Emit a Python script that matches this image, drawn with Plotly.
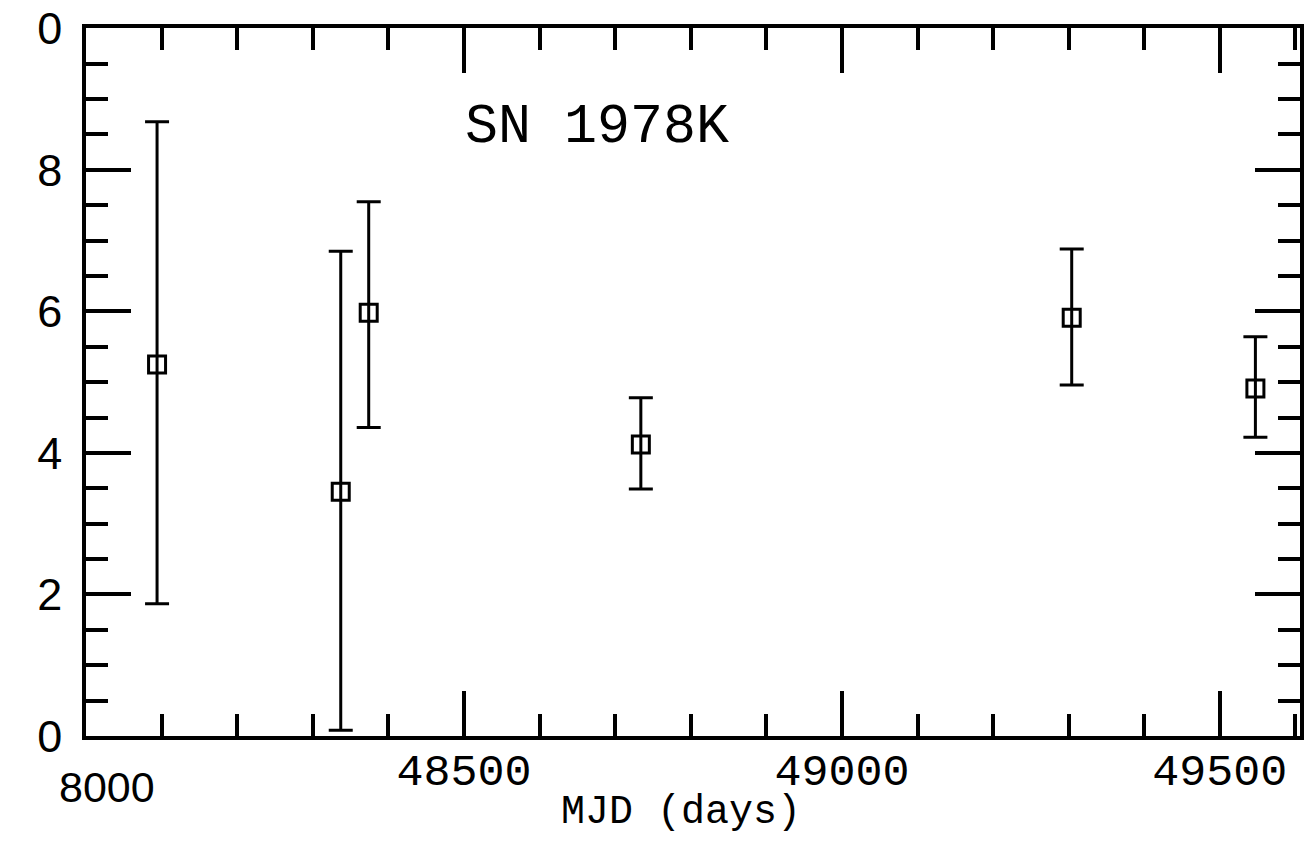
import plotly.graph_objects as go

# Data
mjd = [48094, 48337, 48374, 48734, 49304, 49547]
value = [5.25, 3.45, 5.98, 4.12, 5.91, 4.91]
err_up = [3.43, 3.40, 1.57, 0.66, 0.97, 0.73]
err_dn = [3.38, 3.37, 1.62, 0.63, 0.95, 0.69]

x_tickvals = [48000, 48500, 49000, 49500]
x_ticktext = ["", "48500", "49000", "49500"]
first_x_label = "8000"   # first x tick label, printed in a sans face in the original
y_tickvals = [0, 2, 4, 6, 8, 10]
y_ticktext = ["0", "2", "4", "6", "8", "0"]

fig = go.Figure(
    go.Scatter(
        x=mjd, y=value, mode="markers",
        marker=dict(symbol="square-open", size=17, color="black",
                    line=dict(width=3, color="black")),
        error_y=dict(type="data", symmetric=False, array=err_up, arrayminus=err_dn,
                     color="black", thickness=3, width=12),
        showlegend=False,
    )
)

axis_common = dict(
    showline=True, linewidth=3.5, linecolor="black", mirror="ticks",
    ticks="inside", tickwidth=3.5, tickcolor="black", ticklen=45,
    showgrid=False, zeroline=False, ticklabeloverflow="allow",
    automargin=False,
)

fig.update_layout(
    width=1311, height=853,
    margin=dict(l=86, r=11, t=28, b=117),
    plot_bgcolor="white", paper_bgcolor="white",
    xaxis=dict(
        range=[48000, 49606], tickmode="array",
        tickvals=x_tickvals, ticktext=x_ticktext,
        tickfont=dict(family="Liberation Mono", size=45, color="black"),
        ticklabelstandoff=-9,
        minor=dict(ticks="inside", ticklen=22, tickwidth=3.5, tickcolor="black",
                   dtick=100, tick0=48000, showgrid=False),
        **axis_common,
    ),
    yaxis=dict(
        range=[0, 10.004], tickmode="array",
        tickvals=y_tickvals, ticktext=y_ticktext,
        tickfont=dict(family="Liberation Sans", size=45, color="black"),
        ticklabelstandoff=11,
        minor=dict(ticks="inside", ticklen=22, tickwidth=3.5, tickcolor="black",
                   dtick=0.5, tick0=0, showgrid=False),
        **axis_common,
    ),
    annotations=[
        dict(
            text="SN 1978K", x=0.421, y=0.86, xref="paper", yref="paper",
            xanchor="center", yanchor="middle", showarrow=False,
            font=dict(family="Liberation Mono", size=55, color="black"),
        ),
        dict(
            text=first_x_label, x=0.0175, y=-0.0715, xref="paper", yref="paper",
            xanchor="center", yanchor="middle", showarrow=False,
            font=dict(family="Liberation Sans", size=43, color="black"),
        ),
        dict(
            text="MJD (days)", x=0.49, y=-0.108, xref="paper", yref="paper",
            xanchor="center", yanchor="middle", showarrow=False,
            font=dict(family="Liberation Mono", size=40, color="black"),
        ),
    ],
)

fig.write_html("out.html")
